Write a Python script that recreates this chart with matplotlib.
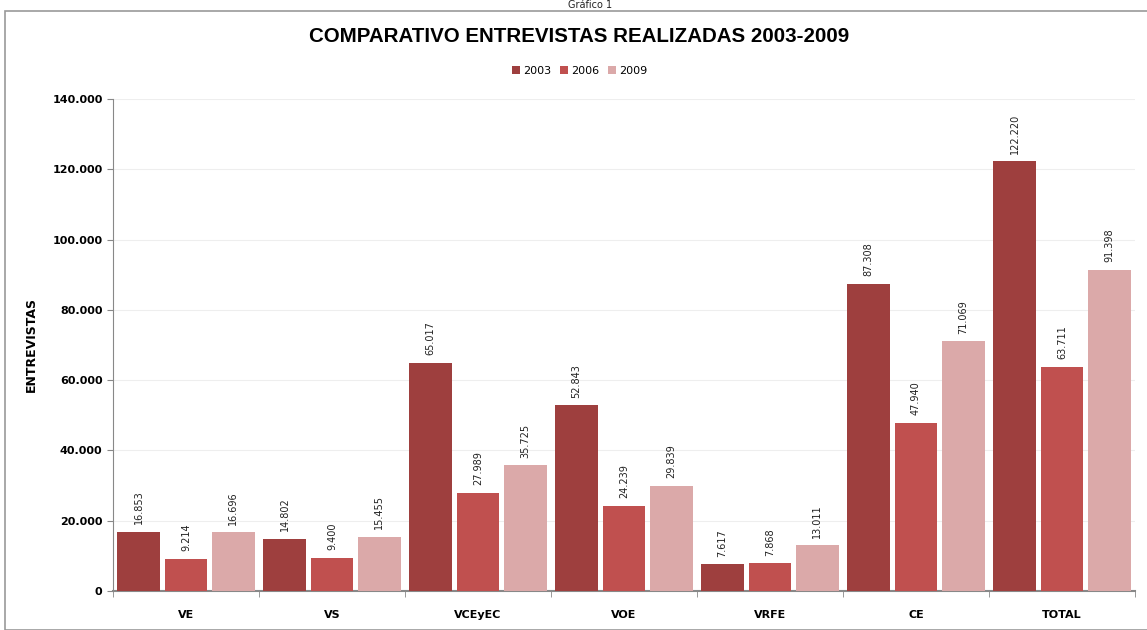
import matplotlib
matplotlib.use("Agg")
import matplotlib.pyplot as plt
import numpy as np
from matplotlib.patches import Rectangle
from matplotlib.ticker import FuncFormatter, FixedLocator

categories = ["VE", "VS", "VCEyEC", "VOE", "VRFE", "CE", "TOTAL"]
years = ["2003", "2006", "2009"]
v2003 = [16853, 14802, 65017, 52843, 7617, 87308, 122220]
v2006 = [9214, 9400, 27989, 24239, 7868, 47940, 63711]
v2009 = [16696, 15455, 35725, 29839, 13011, 71069, 91398]
series = [v2003, v2006, v2009]
colors = ["#9E3F3E", "#C0504F", "#DBA9A9"]

W, H = 1147, 630
fig = plt.figure(figsize=(W/100, H/100), dpi=100)
ax = fig.add_axes([113/W, 1-591/H, (1135-113)/W, (591-99)/H])

x = np.arange(len(categories))
bw = 0.29
offs = [-0.325, 0, 0.325]
for s, vals, c, o in zip(years, series, colors, offs):
    ax.bar(x + o, vals, bw, color=c, label=s, edgecolor='none', zorder=3)
    for xi, v in zip(x + o, vals):
        lab = f"{v:,}".replace(",", ".")
        ax.text(xi, v + 2200, lab, rotation=90, ha='center', va='bottom',
                fontsize=7, color='#222222', zorder=4)

ax.set_xlim(-0.5, len(categories) - 0.5)
ax.set_ylim(0, 140000)
ax.yaxis.set_major_locator(FixedLocator(np.arange(0, 140001, 20000)))
ax.yaxis.set_major_formatter(FuncFormatter(lambda v, p: f"{int(v):,}".replace(",", ".")))
ax.set_xticks(x)
ax.set_xticklabels(categories, fontweight='bold', fontsize=8)
ax.set_xticks(np.arange(-0.5, len(categories)), minor=True)
ax.tick_params(axis='x', which='major', length=0, pad=14)
ax.tick_params(axis='x', which='minor', length=4, color='#888888')
ax.tick_params(axis='y', length=4, color='#888888', labelsize=8)
for lbl in ax.get_yticklabels():
    lbl.set_fontweight('bold')
ax.grid(axis='y', color='#EEEEEE', linewidth=0.8, zorder=0)
ax.spines['top'].set_visible(False)
ax.spines['right'].set_visible(False)
ax.spines['left'].set_color('#888888')
ax.spines['bottom'].set_color('#888888')
ax.spines['bottom'].set_linewidth(1.5)
ax.set_ylabel("ENTREVISTAS", fontweight='bold', fontsize=9, labelpad=10)

fig.text(579/W, 1 - 37/H, "COMPARATIVO ENTREVISTAS REALIZADAS 2003-2009",
         ha='center', va='center', fontsize=14.8, fontweight='bold', family='Liberation Sans')
fig.text(590/W, 1.0, "Gráfico 1", ha='center', va='top', fontsize=7, color='#222222')

handles, labels = ax.get_legend_handles_labels()
fig.legend(handles, labels, loc='center', bbox_to_anchor=(580/W, 1-71/H), ncol=3,
           frameon=False, fontsize=8, handlelength=0.7, handleheight=0.7,
           columnspacing=0.8, handletextpad=0.3)

fig.add_artist(Rectangle((5/W, 0), 1.2, 1-11/H, transform=fig.transFigure,
                         fill=False, edgecolor='#999999', linewidth=1.2))

fig.savefig("out.png", dpi=100)
